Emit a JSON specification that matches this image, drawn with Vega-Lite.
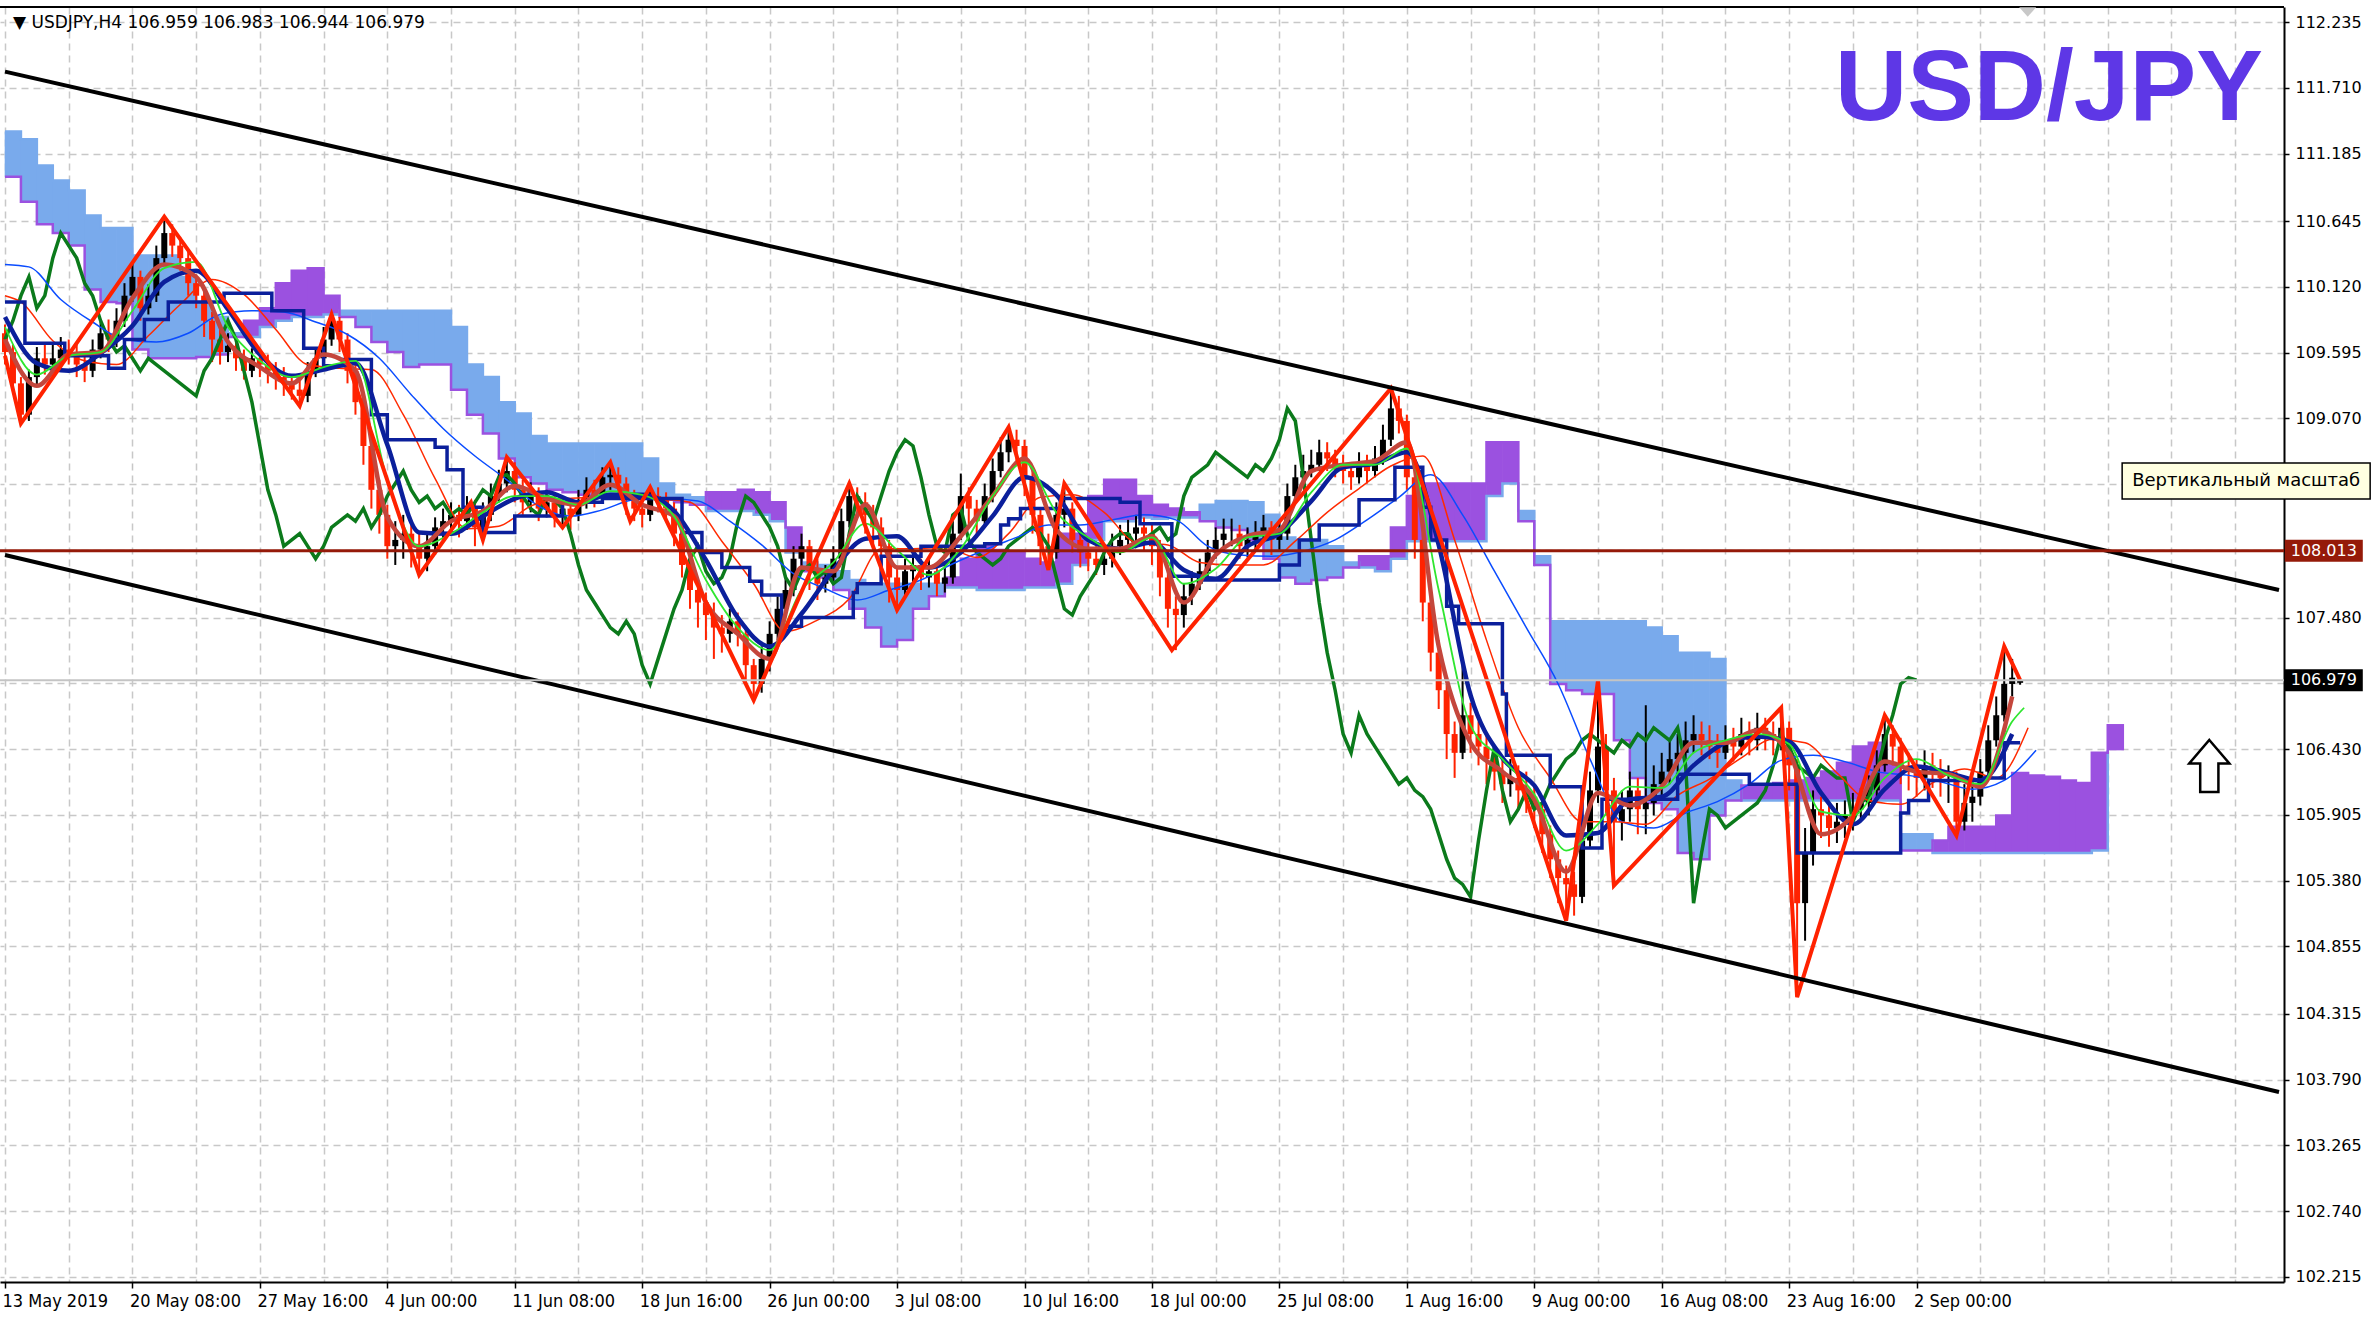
{
  "$schema": "https://vega.github.io/schema/vega-lite/v6.json",
  "width": 2284,
  "height": 1275,
  "autosize": {"type": "none"},
  "padding": {"left": 0, "top": 7, "right": 94, "bottom": 40},
  "background": "#ffffff",
  "config": {"view": {"stroke": null}},
  "datasets": {
    "cloud": [
      {"i":0,"a":111.0,"b":111.36},{"i":4,"a":110.8,"b":111.3},{"i":8,"a":110.62,"b":111.09},{"i":12,"a":110.55,"b":110.97},
      {"i":16,"a":110.45,"b":110.89},{"i":20,"a":110.1,"b":110.69},{"i":24,"a":110.0,"b":110.59},{"i":28,"a":109.99,"b":110.59},
      {"i":32,"a":109.62,"b":110.37},{"i":36,"a":109.55,"b":110.37},{"i":40,"a":109.55,"b":110.37},{"i":44,"a":109.55,"b":110.2},
      {"i":48,"a":109.56,"b":109.99},{"i":52,"a":109.58,"b":109.88},{"i":56,"a":109.72,"b":109.75},{"i":60,"a":109.85,"b":109.72},
      {"i":64,"a":109.95,"b":109.8},{"i":68,"a":110.15,"b":109.85},{"i":72,"a":110.25,"b":109.88},{"i":76,"a":110.27,"b":109.88},
      {"i":80,"a":110.05,"b":109.9},{"i":84,"a":109.88,"b":109.93},{"i":88,"a":109.8,"b":109.93},{"i":92,"a":109.68,"b":109.93},
      {"i":96,"a":109.6,"b":109.93},{"i":100,"a":109.48,"b":109.93},{"i":104,"a":109.5,"b":109.93},{"i":108,"a":109.5,"b":109.93},
      {"i":112,"a":109.3,"b":109.8},{"i":116,"a":109.1,"b":109.5},{"i":120,"a":108.95,"b":109.4},{"i":124,"a":108.75,"b":109.2},
      {"i":128,"a":108.6,"b":109.11},{"i":132,"a":108.55,"b":108.93},{"i":136,"a":108.5,"b":108.87},{"i":140,"a":108.48,"b":108.87},
      {"i":144,"a":108.46,"b":108.87},{"i":148,"a":108.45,"b":108.87},{"i":152,"a":108.44,"b":108.87},{"i":156,"a":108.45,"b":108.87},
      {"i":160,"a":108.45,"b":108.75},{"i":164,"a":108.42,"b":108.55},{"i":168,"a":108.4,"b":108.46},{"i":172,"a":108.38,"b":108.44},
      {"i":176,"a":108.48,"b":108.33},{"i":180,"a":108.48,"b":108.33},{"i":184,"a":108.5,"b":108.33},{"i":188,"a":108.48,"b":108.3},
      {"i":192,"a":108.4,"b":108.25},{"i":196,"a":108.2,"b":108.0},{"i":200,"a":107.85,"b":107.92},{"i":204,"a":107.8,"b":107.9},
      {"i":208,"a":107.7,"b":107.85},{"i":212,"a":107.55,"b":107.78},{"i":216,"a":107.4,"b":107.75},{"i":220,"a":107.25,"b":107.75},
      {"i":224,"a":107.3,"b":107.75},{"i":228,"a":107.55,"b":107.75},{"i":232,"a":107.65,"b":107.75},{"i":236,"a":107.8,"b":107.72},
      {"i":240,"a":107.95,"b":107.72},{"i":244,"a":108.05,"b":107.7},{"i":248,"a":108.02,"b":107.7},{"i":252,"a":108.0,"b":107.7},
      {"i":256,"a":107.95,"b":107.72},{"i":260,"a":107.92,"b":107.72},{"i":264,"a":108.15,"b":107.75},{"i":268,"a":108.15,"b":107.9},
      {"i":272,"a":108.45,"b":108.1},{"i":276,"a":108.58,"b":108.25},{"i":280,"a":108.58,"b":108.25},{"i":284,"a":108.45,"b":108.28},
      {"i":288,"a":108.38,"b":108.27},{"i":292,"a":108.35,"b":108.28},{"i":296,"a":108.32,"b":108.28},{"i":300,"a":108.25,"b":108.38},
      {"i":304,"a":108.2,"b":108.41},{"i":308,"a":108.18,"b":108.41},{"i":312,"a":108.1,"b":108.4},{"i":316,"a":107.95,"b":108.3},
      {"i":320,"a":107.8,"b":108.12},{"i":324,"a":107.75,"b":108.1},{"i":328,"a":107.78,"b":108.1},{"i":332,"a":107.8,"b":108.05},
      {"i":336,"a":107.88,"b":107.92},{"i":340,"a":107.97,"b":107.88},{"i":344,"a":107.97,"b":107.85},{"i":348,"a":108.2,"b":107.95},
      {"i":352,"a":108.45,"b":108.09},{"i":356,"a":108.55,"b":108.09},{"i":360,"a":108.55,"b":108.09},{"i":364,"a":108.55,"b":108.09},
      {"i":368,"a":108.55,"b":108.09},{"i":372,"a":108.88,"b":108.45},{"i":376,"a":108.88,"b":108.55},{"i":380,"a":108.25,"b":108.33},
      {"i":384,"a":107.9,"b":107.97},{"i":388,"a":106.95,"b":107.45},{"i":392,"a":106.9,"b":107.45},{"i":396,"a":106.87,"b":107.45},
      {"i":400,"a":106.87,"b":107.45},{"i":404,"a":106.5,"b":107.45},{"i":408,"a":106.2,"b":107.45},{"i":412,"a":106.0,"b":107.4},
      {"i":416,"a":105.95,"b":107.33},{"i":420,"a":105.6,"b":107.2},{"i":424,"a":105.55,"b":107.2},{"i":428,"a":105.9,"b":107.15},
      {"i":432,"a":106.02,"b":106.18},{"i":436,"a":106.14,"b":106.02},{"i":440,"a":106.14,"b":106.02},{"i":444,"a":106.16,"b":106.02},
      {"i":448,"a":106.18,"b":106.02},{"i":452,"a":106.2,"b":106.02},{"i":456,"a":106.25,"b":106.02},{"i":460,"a":106.32,"b":106.02},
      {"i":464,"a":106.45,"b":106.02},{"i":468,"a":106.48,"b":106.02},{"i":472,"a":106.3,"b":106.02},{"i":476,"a":105.62,"b":105.75},
      {"i":480,"a":105.62,"b":105.75},{"i":484,"a":105.7,"b":105.6},{"i":488,"a":105.81,"b":105.6},{"i":492,"a":105.81,"b":105.6},
      {"i":496,"a":105.81,"b":105.6},{"i":500,"a":105.9,"b":105.6},{"i":504,"a":106.24,"b":105.6},{"i":508,"a":106.22,"b":105.6},
      {"i":512,"a":106.21,"b":105.6},{"i":516,"a":106.18,"b":105.6},{"i":520,"a":106.16,"b":105.6},{"i":524,"a":106.4,"b":105.62},
      {"i":528,"a":106.63,"b":106.42}
    ],
    "candles": [
      {"i":0,"o":109.75,"h":109.82,"l":109.5,"c":109.6},{"i":2,"o":109.6,"h":109.66,"l":109.28,"c":109.35},
      {"i":4,"o":109.35,"h":109.4,"l":109.03,"c":109.1},{"i":6,"o":109.1,"h":109.46,"l":109.05,"c":109.4},
      {"i":8,"o":109.4,"h":109.64,"l":109.34,"c":109.55},{"i":10,"o":109.55,"h":109.66,"l":109.42,"c":109.5},
      {"i":12,"o":109.5,"h":109.68,"l":109.44,"c":109.55},{"i":14,"o":109.55,"h":109.72,"l":109.48,"c":109.62},
      {"i":16,"o":109.62,"h":109.7,"l":109.5,"c":109.6},{"i":18,"o":109.6,"h":109.66,"l":109.4,"c":109.5},
      {"i":20,"o":109.5,"h":109.58,"l":109.36,"c":109.45},{"i":22,"o":109.45,"h":109.7,"l":109.4,"c":109.62},
      {"i":24,"o":109.62,"h":109.84,"l":109.55,"c":109.75},{"i":26,"o":109.75,"h":109.86,"l":109.6,"c":109.7},
      {"i":28,"o":109.7,"h":109.95,"l":109.64,"c":109.85},{"i":30,"o":109.85,"h":110.15,"l":109.8,"c":110.05},
      {"i":32,"o":110.05,"h":110.31,"l":110.0,"c":110.2},{"i":34,"o":110.2,"h":110.25,"l":109.85,"c":109.95},
      {"i":36,"o":109.95,"h":110.14,"l":109.9,"c":110.05},{"i":38,"o":110.05,"h":110.45,"l":110.0,"c":110.35},
      {"i":40,"o":110.35,"h":110.68,"l":110.3,"c":110.55},{"i":42,"o":110.55,"h":110.62,"l":110.36,"c":110.45},
      {"i":44,"o":110.45,"h":110.52,"l":110.25,"c":110.35},{"i":46,"o":110.35,"h":110.4,"l":110.05,"c":110.15},
      {"i":48,"o":110.15,"h":110.22,"l":109.95,"c":110.05},{"i":50,"o":110.05,"h":110.1,"l":109.72,"c":109.85},
      {"i":52,"o":109.85,"h":109.92,"l":109.52,"c":109.7},{"i":54,"o":109.7,"h":109.8,"l":109.5,"c":109.6},
      {"i":56,"o":109.6,"h":109.75,"l":109.52,"c":109.65},{"i":58,"o":109.65,"h":109.7,"l":109.45,"c":109.55},
      {"i":60,"o":109.55,"h":109.62,"l":109.38,"c":109.45},{"i":62,"o":109.45,"h":109.63,"l":109.4,"c":109.55},
      {"i":64,"o":109.55,"h":109.62,"l":109.4,"c":109.5},{"i":66,"o":109.5,"h":109.58,"l":109.35,"c":109.45},
      {"i":68,"o":109.45,"h":109.52,"l":109.3,"c":109.4},{"i":70,"o":109.4,"h":109.48,"l":109.25,"c":109.35},
      {"i":72,"o":109.35,"h":109.42,"l":109.22,"c":109.3},{"i":74,"o":109.3,"h":109.38,"l":109.17,"c":109.25},
      {"i":76,"o":109.25,"h":109.52,"l":109.2,"c":109.45},{"i":78,"o":109.45,"h":109.64,"l":109.4,"c":109.55},
      {"i":80,"o":109.55,"h":109.8,"l":109.5,"c":109.7},{"i":82,"o":109.7,"h":109.9,"l":109.65,"c":109.85},
      {"i":84,"o":109.85,"h":109.88,"l":109.6,"c":109.7},{"i":86,"o":109.7,"h":109.75,"l":109.35,"c":109.45},
      {"i":88,"o":109.45,"h":109.5,"l":109.1,"c":109.2},{"i":90,"o":109.2,"h":109.25,"l":108.7,"c":108.85},
      {"i":92,"o":108.85,"h":108.9,"l":108.35,"c":108.5},{"i":94,"o":108.5,"h":108.58,"l":108.15,"c":108.3},
      {"i":96,"o":108.3,"h":108.38,"l":107.95,"c":108.05},{"i":98,"o":108.05,"h":108.25,"l":107.9,"c":108.1},
      {"i":100,"o":108.1,"h":108.3,"l":107.95,"c":108.15},{"i":102,"o":108.15,"h":108.25,"l":107.88,"c":108.05},
      {"i":104,"o":108.05,"h":108.15,"l":107.82,"c":107.95},{"i":106,"o":107.95,"h":108.15,"l":107.85,"c":108.05},
      {"i":108,"o":108.05,"h":108.28,"l":107.98,"c":108.2},{"i":110,"o":108.2,"h":108.35,"l":108.1,"c":108.25},
      {"i":112,"o":108.25,"h":108.4,"l":108.15,"c":108.3},{"i":114,"o":108.3,"h":108.38,"l":108.12,"c":108.25},
      {"i":116,"o":108.25,"h":108.45,"l":108.18,"c":108.35},{"i":118,"o":108.35,"h":108.42,"l":108.05,"c":108.2},
      {"i":120,"o":108.2,"h":108.4,"l":108.12,"c":108.3},{"i":122,"o":108.3,"h":108.55,"l":108.25,"c":108.45},
      {"i":124,"o":108.45,"h":108.66,"l":108.4,"c":108.55},{"i":126,"o":108.55,"h":108.76,"l":108.48,"c":108.65},
      {"i":128,"o":108.65,"h":108.72,"l":108.4,"c":108.5},{"i":130,"o":108.5,"h":108.58,"l":108.3,"c":108.4},
      {"i":132,"o":108.4,"h":108.56,"l":108.32,"c":108.45},{"i":134,"o":108.45,"h":108.52,"l":108.25,"c":108.35},
      {"i":136,"o":108.35,"h":108.5,"l":108.28,"c":108.4},{"i":138,"o":108.4,"h":108.46,"l":108.2,"c":108.3},
      {"i":140,"o":108.3,"h":108.45,"l":108.22,"c":108.35},{"i":142,"o":108.35,"h":108.42,"l":108.18,"c":108.3},
      {"i":144,"o":108.3,"h":108.5,"l":108.25,"c":108.4},{"i":146,"o":108.4,"h":108.6,"l":108.35,"c":108.5},
      {"i":148,"o":108.5,"h":108.58,"l":108.36,"c":108.45},{"i":150,"o":108.45,"h":108.68,"l":108.4,"c":108.6},
      {"i":152,"o":108.6,"h":108.72,"l":108.5,"c":108.62},{"i":154,"o":108.62,"h":108.68,"l":108.45,"c":108.55},
      {"i":156,"o":108.55,"h":108.6,"l":108.3,"c":108.45},{"i":158,"o":108.45,"h":108.5,"l":108.25,"c":108.35},
      {"i":160,"o":108.35,"h":108.45,"l":108.2,"c":108.3},{"i":162,"o":108.3,"h":108.52,"l":108.25,"c":108.45},
      {"i":164,"o":108.45,"h":108.52,"l":108.32,"c":108.42},{"i":166,"o":108.42,"h":108.48,"l":108.25,"c":108.35},
      {"i":168,"o":108.35,"h":108.4,"l":108.05,"c":108.15},{"i":170,"o":108.15,"h":108.2,"l":107.8,"c":107.9},
      {"i":172,"o":107.9,"h":107.95,"l":107.55,"c":107.7},{"i":174,"o":107.7,"h":107.78,"l":107.4,"c":107.6},
      {"i":176,"o":107.6,"h":107.68,"l":107.3,"c":107.5},{"i":178,"o":107.5,"h":107.6,"l":107.15,"c":107.4},
      {"i":180,"o":107.4,"h":107.5,"l":107.2,"c":107.35},{"i":182,"o":107.35,"h":107.55,"l":107.28,"c":107.45},
      {"i":184,"o":107.45,"h":107.52,"l":107.25,"c":107.35},{"i":186,"o":107.35,"h":107.4,"l":106.95,"c":107.1},
      {"i":188,"o":107.1,"h":107.15,"l":106.82,"c":106.95},{"i":190,"o":106.95,"h":107.25,"l":106.88,"c":107.15},
      {"i":192,"o":107.15,"h":107.45,"l":107.05,"c":107.35},{"i":194,"o":107.35,"h":107.65,"l":107.3,"c":107.55},
      {"i":196,"o":107.55,"h":107.8,"l":107.5,"c":107.7},{"i":198,"o":107.7,"h":108.05,"l":107.65,"c":107.95},
      {"i":200,"o":107.95,"h":108.15,"l":107.85,"c":108.05},{"i":202,"o":108.05,"h":108.1,"l":107.7,"c":107.85},
      {"i":204,"o":107.85,"h":107.95,"l":107.62,"c":107.75},{"i":206,"o":107.75,"h":107.9,"l":107.68,"c":107.8},
      {"i":208,"o":107.8,"h":108.05,"l":107.75,"c":107.95},{"i":210,"o":107.95,"h":108.35,"l":107.9,"c":108.25},
      {"i":212,"o":108.25,"h":108.55,"l":108.2,"c":108.45},{"i":214,"o":108.45,"h":108.52,"l":108.28,"c":108.4},
      {"i":216,"o":108.4,"h":108.48,"l":108.15,"c":108.3},{"i":218,"o":108.3,"h":108.38,"l":108.05,"c":108.2},
      {"i":220,"o":108.2,"h":108.28,"l":107.9,"c":108.05},{"i":222,"o":108.05,"h":108.1,"l":107.6,"c":107.8},
      {"i":224,"o":107.8,"h":107.88,"l":107.54,"c":107.7},{"i":226,"o":107.7,"h":107.95,"l":107.65,"c":107.85},
      {"i":228,"o":107.85,"h":108.0,"l":107.75,"c":107.9},{"i":230,"o":107.9,"h":107.95,"l":107.7,"c":107.8},
      {"i":232,"o":107.8,"h":107.95,"l":107.72,"c":107.85},{"i":234,"o":107.85,"h":107.9,"l":107.65,"c":107.75},
      {"i":236,"o":107.75,"h":107.92,"l":107.68,"c":107.8},{"i":238,"o":107.8,"h":108.25,"l":107.75,"c":108.15},
      {"i":240,"o":108.15,"h":108.63,"l":108.1,"c":108.45},{"i":242,"o":108.45,"h":108.52,"l":108.22,"c":108.35},
      {"i":244,"o":108.35,"h":108.42,"l":108.12,"c":108.25},{"i":246,"o":108.25,"h":108.55,"l":108.2,"c":108.45},
      {"i":248,"o":108.45,"h":108.75,"l":108.4,"c":108.65},{"i":250,"o":108.65,"h":108.92,"l":108.6,"c":108.8},
      {"i":252,"o":108.8,"h":109.0,"l":108.72,"c":108.9},{"i":254,"o":108.9,"h":108.98,"l":108.7,"c":108.85},
      {"i":256,"o":108.85,"h":108.9,"l":108.45,"c":108.6},{"i":258,"o":108.6,"h":108.65,"l":108.15,"c":108.3},
      {"i":260,"o":108.3,"h":108.35,"l":107.9,"c":108.05},{"i":262,"o":108.05,"h":108.15,"l":107.86,"c":108.0},
      {"i":264,"o":108.0,"h":108.4,"l":107.95,"c":108.3},{"i":266,"o":108.3,"h":108.55,"l":108.2,"c":108.35},
      {"i":268,"o":108.35,"h":108.4,"l":108.0,"c":108.1},{"i":270,"o":108.1,"h":108.18,"l":107.88,"c":108.0},
      {"i":272,"o":108.0,"h":108.08,"l":107.85,"c":107.95},{"i":274,"o":107.95,"h":108.05,"l":107.82,"c":107.9},
      {"i":276,"o":107.9,"h":108.05,"l":107.82,"c":107.95},{"i":278,"o":107.95,"h":108.15,"l":107.88,"c":108.05},
      {"i":280,"o":108.05,"h":108.22,"l":107.98,"c":108.1},{"i":282,"o":108.1,"h":108.26,"l":108.02,"c":108.15},
      {"i":284,"o":108.15,"h":108.3,"l":108.08,"c":108.2},{"i":286,"o":108.2,"h":108.28,"l":108.02,"c":108.15},
      {"i":288,"o":108.15,"h":108.22,"l":107.9,"c":108.05},{"i":290,"o":108.05,"h":108.1,"l":107.65,"c":107.8},
      {"i":292,"o":107.8,"h":107.85,"l":107.4,"c":107.55},{"i":294,"o":107.55,"h":107.65,"l":107.22,"c":107.5},
      {"i":296,"o":107.5,"h":107.75,"l":107.4,"c":107.65},{"i":298,"o":107.65,"h":107.85,"l":107.58,"c":107.75},
      {"i":300,"o":107.75,"h":107.95,"l":107.7,"c":107.85},{"i":302,"o":107.85,"h":108.1,"l":107.8,"c":108.0},
      {"i":304,"o":108.0,"h":108.2,"l":107.95,"c":108.1},{"i":306,"o":108.1,"h":108.27,"l":108.02,"c":108.15},
      {"i":308,"o":108.15,"h":108.27,"l":108.05,"c":108.15},{"i":310,"o":108.15,"h":108.22,"l":107.95,"c":108.05},
      {"i":312,"o":108.05,"h":108.2,"l":107.96,"c":108.1},{"i":314,"o":108.1,"h":108.25,"l":108.02,"c":108.15},
      {"i":316,"o":108.15,"h":108.3,"l":108.08,"c":108.2},{"i":318,"o":108.2,"h":108.25,"l":107.98,"c":108.1},
      {"i":320,"o":108.1,"h":108.26,"l":108.02,"c":108.15},{"i":322,"o":108.15,"h":108.55,"l":108.1,"c":108.45},
      {"i":324,"o":108.45,"h":108.7,"l":108.4,"c":108.6},{"i":326,"o":108.6,"h":108.78,"l":108.55,"c":108.65},
      {"i":328,"o":108.65,"h":108.82,"l":108.6,"c":108.7},{"i":330,"o":108.7,"h":108.9,"l":108.65,"c":108.8},
      {"i":332,"o":108.8,"h":108.88,"l":108.65,"c":108.75},{"i":334,"o":108.75,"h":108.82,"l":108.6,"c":108.7},
      {"i":336,"o":108.7,"h":108.78,"l":108.55,"c":108.65},{"i":338,"o":108.65,"h":108.72,"l":108.5,"c":108.6},
      {"i":340,"o":108.6,"h":108.8,"l":108.55,"c":108.7},{"i":342,"o":108.7,"h":108.78,"l":108.55,"c":108.65},
      {"i":344,"o":108.65,"h":108.85,"l":108.6,"c":108.75},{"i":346,"o":108.75,"h":109.02,"l":108.7,"c":108.9},
      {"i":348,"o":108.9,"h":109.31,"l":108.85,"c":109.15},{"i":350,"o":109.15,"h":109.25,"l":108.95,"c":109.05},
      {"i":352,"o":109.05,"h":109.1,"l":108.5,"c":108.6},{"i":354,"o":108.6,"h":108.65,"l":107.95,"c":108.1},
      {"i":356,"o":108.1,"h":108.15,"l":107.45,"c":107.6},{"i":358,"o":107.6,"h":107.7,"l":107.05,"c":107.2},
      {"i":360,"o":107.2,"h":107.3,"l":106.75,"c":106.9},{"i":362,"o":106.9,"h":106.95,"l":106.35,"c":106.55},
      {"i":364,"o":106.55,"h":106.65,"l":106.2,"c":106.4},{"i":366,"o":106.4,"h":107.1,"l":106.35,"c":106.7},
      {"i":368,"o":106.7,"h":106.8,"l":106.4,"c":106.55},{"i":370,"o":106.55,"h":106.65,"l":106.3,"c":106.45},
      {"i":372,"o":106.45,"h":106.55,"l":106.15,"c":106.35},{"i":374,"o":106.35,"h":106.42,"l":106.1,"c":106.25},
      {"i":376,"o":106.25,"h":106.35,"l":106.0,"c":106.15},{"i":378,"o":106.15,"h":106.35,"l":106.05,"c":106.2},
      {"i":380,"o":106.2,"h":106.3,"l":105.95,"c":106.1},{"i":382,"o":106.1,"h":106.25,"l":105.92,"c":106.05},
      {"i":384,"o":106.05,"h":106.15,"l":105.8,"c":105.95},{"i":386,"o":105.95,"h":106.0,"l":105.6,"c":105.75},
      {"i":388,"o":105.75,"h":105.82,"l":105.4,"c":105.55},{"i":390,"o":105.55,"h":105.62,"l":105.2,"c":105.4},
      {"i":392,"o":105.4,"h":105.5,"l":105.06,"c":105.35},{"i":394,"o":105.35,"h":105.45,"l":105.1,"c":105.25},
      {"i":396,"o":105.25,"h":105.8,"l":105.2,"c":105.7},{"i":398,"o":105.7,"h":106.25,"l":105.65,"c":106.1},
      {"i":400,"o":106.1,"h":106.98,"l":106.0,"c":106.45},{"i":402,"o":106.45,"h":106.55,"l":105.9,"c":106.1},
      {"i":404,"o":106.1,"h":106.2,"l":105.34,"c":105.85},{"i":406,"o":105.85,"h":106.1,"l":105.7,"c":105.95},
      {"i":408,"o":105.95,"h":106.25,"l":105.85,"c":106.1},{"i":410,"o":106.1,"h":106.2,"l":105.75,"c":105.95},
      {"i":412,"o":105.95,"h":106.78,"l":105.75,"c":106.0},{"i":414,"o":106.0,"h":106.3,"l":105.9,"c":106.15},
      {"i":416,"o":106.15,"h":106.4,"l":106.05,"c":106.25},{"i":418,"o":106.25,"h":106.5,"l":106.15,"c":106.35},
      {"i":420,"o":106.35,"h":106.55,"l":106.25,"c":106.4},{"i":422,"o":106.4,"h":106.65,"l":106.3,"c":106.5},
      {"i":424,"o":106.5,"h":106.7,"l":106.4,"c":106.55},{"i":426,"o":106.55,"h":106.65,"l":106.38,"c":106.5},
      {"i":428,"o":106.5,"h":106.62,"l":106.35,"c":106.45},{"i":430,"o":106.45,"h":106.55,"l":106.28,"c":106.4},
      {"i":432,"o":106.4,"h":106.62,"l":106.35,"c":106.5},{"i":434,"o":106.5,"h":106.6,"l":106.33,"c":106.45},
      {"i":436,"o":106.45,"h":106.68,"l":106.38,"c":106.55},{"i":438,"o":106.55,"h":106.65,"l":106.38,"c":106.5},
      {"i":440,"o":106.5,"h":106.72,"l":106.42,"c":106.6},{"i":442,"o":106.6,"h":106.68,"l":106.42,"c":106.55},
      {"i":444,"o":106.55,"h":106.65,"l":106.38,"c":106.5},{"i":446,"o":106.5,"h":106.76,"l":106.42,"c":106.6},
      {"i":448,"o":106.6,"h":106.65,"l":106.1,"c":106.3},{"i":450,"o":106.3,"h":106.35,"l":104.45,"c":105.2},
      {"i":452,"o":105.2,"h":105.8,"l":104.9,"c":105.6},{"i":454,"o":105.6,"h":106.1,"l":105.5,"c":105.95},
      {"i":456,"o":105.95,"h":106.05,"l":105.72,"c":105.9},{"i":458,"o":105.9,"h":105.98,"l":105.65,"c":105.8},
      {"i":460,"o":105.8,"h":106.0,"l":105.68,"c":105.85},{"i":462,"o":105.85,"h":106.02,"l":105.72,"c":105.9},
      {"i":464,"o":105.9,"h":106.08,"l":105.78,"c":105.95},{"i":466,"o":105.95,"h":106.12,"l":105.85,"c":106.0},
      {"i":468,"o":106.0,"h":106.22,"l":105.9,"c":106.1},{"i":470,"o":106.1,"h":106.42,"l":106.05,"c":106.3},
      {"i":472,"o":106.3,"h":106.7,"l":106.25,"c":106.55},{"i":474,"o":106.55,"h":106.62,"l":106.3,"c":106.45},
      {"i":476,"o":106.45,"h":106.52,"l":106.15,"c":106.3},{"i":478,"o":106.3,"h":106.4,"l":106.1,"c":106.25},
      {"i":480,"o":106.25,"h":106.35,"l":106.05,"c":106.2},{"i":482,"o":106.2,"h":106.42,"l":106.1,"c":106.3},
      {"i":484,"o":106.3,"h":106.4,"l":106.12,"c":106.25},{"i":486,"o":106.25,"h":106.35,"l":106.05,"c":106.2},
      {"i":488,"o":106.2,"h":106.3,"l":106.0,"c":106.2},{"i":490,"o":106.2,"h":106.25,"l":105.74,"c":105.85},
      {"i":492,"o":105.85,"h":106.15,"l":105.78,"c":106.0},{"i":494,"o":106.0,"h":106.2,"l":105.85,"c":106.05},
      {"i":496,"o":106.05,"h":106.35,"l":105.98,"c":106.25},{"i":498,"o":106.25,"h":106.62,"l":106.2,"c":106.5},
      {"i":500,"o":106.5,"h":106.85,"l":106.45,"c":106.7},{"i":502,"o":106.7,"h":107.25,"l":106.65,"c":106.95},
      {"i":504,"o":106.95,"h":107.15,"l":106.85,"c":107.0},{"i":506,"o":106.959,"h":106.983,"l":106.944,"c":106.979}
    ],
    "chikou": [
      {"i":0,"p":109.7},{"i":2,"p":109.85},{"i":4,"p":110.05},{"i":6,"p":110.2},{"i":8,"p":109.95},{"i":10,"p":110.05},
      {"i":12,"p":110.35},{"i":14,"p":110.55},{"i":16,"p":110.45},{"i":18,"p":110.35},{"i":20,"p":110.15},{"i":22,"p":110.05},
      {"i":24,"p":109.85},{"i":26,"p":109.7},{"i":28,"p":109.6},{"i":30,"p":109.65},{"i":32,"p":109.55},{"i":34,"p":109.45},
      {"i":36,"p":109.55},{"i":38,"p":109.5},{"i":40,"p":109.45},{"i":42,"p":109.4},{"i":44,"p":109.35},{"i":46,"p":109.3},
      {"i":48,"p":109.25},{"i":50,"p":109.45},{"i":52,"p":109.55},{"i":54,"p":109.7},{"i":56,"p":109.85},{"i":58,"p":109.7},
      {"i":60,"p":109.45},{"i":62,"p":109.2},{"i":64,"p":108.85},{"i":66,"p":108.5},{"i":68,"p":108.3},{"i":70,"p":108.05},
      {"i":72,"p":108.1},{"i":74,"p":108.15},{"i":76,"p":108.05},{"i":78,"p":107.95},{"i":80,"p":108.05},{"i":82,"p":108.2},
      {"i":84,"p":108.25},{"i":86,"p":108.3},{"i":88,"p":108.25},{"i":90,"p":108.35},{"i":92,"p":108.2},{"i":94,"p":108.3},
      {"i":96,"p":108.45},{"i":98,"p":108.55},{"i":100,"p":108.65},{"i":102,"p":108.5},{"i":104,"p":108.4},{"i":106,"p":108.45},
      {"i":108,"p":108.35},{"i":110,"p":108.4},{"i":112,"p":108.3},{"i":114,"p":108.35},{"i":116,"p":108.3},{"i":118,"p":108.4},
      {"i":120,"p":108.5},{"i":122,"p":108.45},{"i":124,"p":108.6},{"i":126,"p":108.62},{"i":128,"p":108.55},{"i":130,"p":108.45},
      {"i":132,"p":108.35},{"i":134,"p":108.3},{"i":136,"p":108.45},{"i":138,"p":108.42},{"i":140,"p":108.35},{"i":142,"p":108.15},
      {"i":144,"p":107.9},{"i":146,"p":107.7},{"i":148,"p":107.6},{"i":150,"p":107.5},{"i":152,"p":107.4},{"i":154,"p":107.35},
      {"i":156,"p":107.45},{"i":158,"p":107.35},{"i":160,"p":107.1},{"i":162,"p":106.95},{"i":164,"p":107.15},{"i":166,"p":107.35},
      {"i":168,"p":107.55},{"i":170,"p":107.7},{"i":172,"p":107.95},{"i":174,"p":108.05},{"i":176,"p":107.85},{"i":178,"p":107.75},
      {"i":180,"p":107.8},{"i":182,"p":107.95},{"i":184,"p":108.25},{"i":186,"p":108.45},{"i":188,"p":108.4},{"i":190,"p":108.3},
      {"i":192,"p":108.2},{"i":194,"p":108.05},{"i":196,"p":107.8},{"i":198,"p":107.7},{"i":200,"p":107.85},{"i":202,"p":107.9},
      {"i":204,"p":107.8},{"i":206,"p":107.85},{"i":208,"p":107.75},{"i":210,"p":107.8},{"i":212,"p":108.15},{"i":214,"p":108.45},
      {"i":216,"p":108.35},{"i":218,"p":108.25},{"i":220,"p":108.45},{"i":222,"p":108.65},{"i":224,"p":108.8},{"i":226,"p":108.9},
      {"i":228,"p":108.85},{"i":230,"p":108.6},{"i":232,"p":108.3},{"i":234,"p":108.05},{"i":236,"p":108.0},{"i":238,"p":108.3},
      {"i":240,"p":108.35},{"i":242,"p":108.1},{"i":244,"p":108.0},{"i":246,"p":107.95},{"i":248,"p":107.9},{"i":250,"p":107.95},
      {"i":252,"p":108.05},{"i":254,"p":108.1},{"i":256,"p":108.15},{"i":258,"p":108.2},{"i":260,"p":108.15},{"i":262,"p":108.05},
      {"i":264,"p":107.8},{"i":266,"p":107.55},{"i":268,"p":107.5},{"i":270,"p":107.65},{"i":272,"p":107.75},{"i":274,"p":107.85},
      {"i":276,"p":108.0},{"i":278,"p":108.1},{"i":280,"p":108.15},{"i":282,"p":108.15},{"i":284,"p":108.05},{"i":286,"p":108.1},
      {"i":288,"p":108.15},{"i":290,"p":108.2},{"i":292,"p":108.1},{"i":294,"p":108.15},{"i":296,"p":108.45},{"i":298,"p":108.6},
      {"i":300,"p":108.65},{"i":302,"p":108.7},{"i":304,"p":108.8},{"i":306,"p":108.75},{"i":308,"p":108.7},{"i":310,"p":108.65},
      {"i":312,"p":108.6},{"i":314,"p":108.7},{"i":316,"p":108.65},{"i":318,"p":108.75},{"i":320,"p":108.9},{"i":322,"p":109.15},
      {"i":324,"p":109.05},{"i":326,"p":108.6},{"i":328,"p":108.1},{"i":330,"p":107.6},{"i":332,"p":107.2},{"i":334,"p":106.9},
      {"i":336,"p":106.55},{"i":338,"p":106.4},{"i":340,"p":106.7},{"i":342,"p":106.55},{"i":344,"p":106.45},{"i":346,"p":106.35},
      {"i":348,"p":106.25},{"i":350,"p":106.15},{"i":352,"p":106.2},{"i":354,"p":106.1},{"i":356,"p":106.05},{"i":358,"p":105.95},
      {"i":360,"p":105.75},{"i":362,"p":105.55},{"i":364,"p":105.4},{"i":366,"p":105.35},{"i":368,"p":105.25},{"i":370,"p":105.7},
      {"i":372,"p":106.1},{"i":374,"p":106.45},{"i":376,"p":106.1},{"i":378,"p":105.85},{"i":380,"p":105.95},{"i":382,"p":106.1},
      {"i":384,"p":105.95},{"i":386,"p":106.0},{"i":388,"p":106.15},{"i":390,"p":106.25},{"i":392,"p":106.35},{"i":394,"p":106.4},
      {"i":396,"p":106.5},{"i":398,"p":106.55},{"i":400,"p":106.5},{"i":402,"p":106.45},{"i":404,"p":106.4},{"i":406,"p":106.5},
      {"i":408,"p":106.45},{"i":410,"p":106.55},{"i":412,"p":106.5},{"i":414,"p":106.6},{"i":416,"p":106.55},{"i":418,"p":106.5},
      {"i":420,"p":106.6},{"i":422,"p":106.3},{"i":424,"p":105.2},{"i":426,"p":105.6},{"i":428,"p":105.95},{"i":430,"p":105.9},
      {"i":432,"p":105.8},{"i":434,"p":105.85},{"i":436,"p":105.9},{"i":438,"p":105.95},{"i":440,"p":106.0},{"i":442,"p":106.1},
      {"i":444,"p":106.3},{"i":446,"p":106.55},{"i":448,"p":106.45},{"i":450,"p":106.3},{"i":452,"p":106.25},{"i":454,"p":106.2},
      {"i":456,"p":106.3},{"i":458,"p":106.25},{"i":460,"p":106.2},{"i":462,"p":106.2},{"i":464,"p":105.85},{"i":466,"p":106.0},
      {"i":468,"p":106.05},{"i":470,"p":106.25},{"i":472,"p":106.5},{"i":474,"p":106.7},{"i":476,"p":106.95},{"i":478,"p":107.0},
      {"i":480,"p":106.98}
    ],
    "ma_blue": [
      {"i":0,"p":110.3},{"i":6,"p":110.28},{"i":14,"p":110.02},{"i":22,"p":109.84},{"i":30,"p":109.7},{"i":38,"p":109.68},
      {"i":46,"p":109.75},{"i":54,"p":109.9},{"i":62,"p":109.93},{"i":70,"p":109.92},{"i":78,"p":109.84},{"i":86,"p":109.74},
      {"i":94,"p":109.55},{"i":102,"p":109.26},{"i":110,"p":108.99},{"i":118,"p":108.77},{"i":126,"p":108.58},{"i":134,"p":108.37},
      {"i":142,"p":108.29},{"i":150,"p":108.34},{"i":158,"p":108.42},{"i":166,"p":108.43},{"i":174,"p":108.41},{"i":182,"p":108.25},
      {"i":190,"p":108.06},{"i":198,"p":107.83},{"i":206,"p":107.71},{"i":214,"p":107.62},{"i":222,"p":107.7},{"i":230,"p":107.78},
      {"i":238,"p":107.91},{"i":246,"p":108.02},{"i":254,"p":108.12},{"i":262,"p":108.22},{"i":270,"p":108.22},{"i":278,"p":108.26},
      {"i":286,"p":108.3},{"i":294,"p":108.26},{"i":302,"p":108.05},{"i":310,"p":107.98},{"i":318,"p":107.97},{"i":326,"p":108.01},
      {"i":334,"p":108.1},{"i":342,"p":108.26},{"i":350,"p":108.44},{"i":358,"p":108.62},{"i":366,"p":108.3},{"i":374,"p":107.85},
      {"i":382,"p":107.4},{"i":390,"p":106.95},{"i":398,"p":106.35},{"i":406,"p":105.85},{"i":414,"p":105.8},{"i":422,"p":105.92},
      {"i":430,"p":106.01},{"i":438,"p":106.15},{"i":446,"p":106.34},{"i":454,"p":106.38},{"i":462,"p":106.33},{"i":470,"p":106.25},
      {"i":478,"p":106.22},{"i":486,"p":106.17},{"i":494,"p":106.11},{"i":502,"p":106.18},{"i":510,"p":106.42}
    ],
    "ma_red": [
      {"i":0,"p":110.05},{"i":4,"p":110.0},{"i":12,"p":109.69},{"i":20,"p":109.53},{"i":28,"p":109.5},{"i":36,"p":109.73},
      {"i":44,"p":109.98},{"i":52,"p":110.18},{"i":60,"p":110.06},{"i":68,"p":109.78},{"i":76,"p":109.5},{"i":84,"p":109.47},
      {"i":92,"p":109.46},{"i":100,"p":109.1},{"i":108,"p":108.59},{"i":116,"p":108.19},{"i":124,"p":108.21},{"i":132,"p":108.37},
      {"i":140,"p":108.43},{"i":148,"p":108.44},{"i":156,"p":108.45},{"i":164,"p":108.43},{"i":172,"p":108.4},{"i":180,"p":108.09},
      {"i":188,"p":107.75},{"i":196,"p":107.37},{"i":204,"p":107.46},{"i":212,"p":107.63},{"i":220,"p":108.03},{"i":228,"p":108.03},
      {"i":236,"p":108.04},{"i":244,"p":107.96},{"i":252,"p":108.15},{"i":260,"p":108.44},{"i":268,"p":108.46},{"i":276,"p":108.32},
      {"i":284,"p":108.08},{"i":292,"p":108.06},{"i":300,"p":107.92},{"i":308,"p":107.9},{"i":316,"p":107.9},{"i":324,"p":108.09},
      {"i":332,"p":108.32},{"i":340,"p":108.51},{"i":348,"p":108.69},{"i":356,"p":108.77},{"i":364,"p":108.1},{"i":372,"p":107.3},
      {"i":380,"p":106.6},{"i":388,"p":106.2},{"i":396,"p":105.85},{"i":404,"p":105.85},{"i":412,"p":105.83},{"i":420,"p":106.06},
      {"i":428,"p":106.19},{"i":436,"p":106.36},{"i":444,"p":106.51},{"i":452,"p":106.48},{"i":460,"p":106.24},{"i":468,"p":106.02},
      {"i":476,"p":105.99},{"i":484,"p":106.16},{"i":492,"p":106.27},{"i":500,"p":106.2},{"i":508,"p":106.6}
    ],
    "kijun": [
      {"i":0,"p":110.0},{"i":5,"p":109.67},{"i":15,"p":109.57},{"i":26,"p":109.47},{"i":30,"p":109.7},{"i":35,"p":109.86},
      {"i":41,"p":110.0},{"i":55,"p":110.07},{"i":67,"p":109.93},{"i":75,"p":109.63},{"i":80,"p":109.49},{"i":85,"p":109.54},
      {"i":92,"p":109.1},{"i":96,"p":108.9},{"i":108,"p":108.84},{"i":111,"p":108.66},{"i":115,"p":108.36},{"i":120,"p":108.16},
      {"i":128,"p":108.29},{"i":140,"p":108.4},{"i":150,"p":108.43},{"i":170,"p":108.16},{"i":175,"p":108.0},{"i":180,"p":107.88},
      {"i":187,"p":107.77},{"i":190,"p":107.66},{"i":195,"p":107.41},{"i":200,"p":107.48},{"i":213,"p":107.68},{"i":214,"p":107.75},
      {"i":220,"p":107.97},{"i":230,"p":108.05},{"i":246,"p":108.07},{"i":250,"p":108.22},{"i":252,"p":108.27},{"i":255,"p":108.35},
      {"i":265,"p":108.43},{"i":280,"p":108.4},{"i":285,"p":108.23},{"i":293,"p":107.81},{"i":300,"p":107.78},{"i":320,"p":107.9},
      {"i":325,"p":108.1},{"i":330,"p":108.22},{"i":340,"p":108.42},{"i":349,"p":108.68},{"i":356,"p":108.36},{"i":358,"p":108.1},
      {"i":362,"p":107.57},{"i":365,"p":107.43},{"i":376,"p":106.87},{"i":377,"p":106.38},{"i":388,"p":106.13},{"i":396,"p":105.64},
      {"i":401,"p":106.03},{"i":420,"p":106.23},{"i":438,"p":106.15},{"i":450,"p":105.6},{"i":476,"p":105.92},{"i":478,"p":106.02},
      {"i":483,"p":106.18},{"i":497,"p":106.2},{"i":502,"p":106.48},{"i":506,"p":106.48}
    ],
    "ma_navy": [
      {"i":0,"p":109.88},{"i":8,"p":109.51},{"i":16,"p":109.45},{"i":24,"p":109.59},{"i":32,"p":109.81},{"i":40,"p":110.16},
      {"i":48,"p":110.25},{"i":56,"p":109.94},{"i":64,"p":109.58},{"i":72,"p":109.41},{"i":80,"p":109.46},{"i":88,"p":109.51},
      {"i":96,"p":108.86},{"i":104,"p":108.16},{"i":112,"p":108.15},{"i":120,"p":108.29},{"i":128,"p":108.43},{"i":136,"p":108.48},
      {"i":144,"p":108.4},{"i":152,"p":108.46},{"i":160,"p":108.46},{"i":168,"p":108.33},{"i":176,"p":107.94},{"i":184,"p":107.48},
      {"i":192,"p":107.25},{"i":200,"p":107.51},{"i":208,"p":107.86},{"i":216,"p":108.11},{"i":224,"p":108.13},{"i":232,"p":107.88},
      {"i":240,"p":108.0},{"i":248,"p":108.29},{"i":256,"p":108.6},{"i":264,"p":108.46},{"i":272,"p":108.1},{"i":280,"p":108.03},
      {"i":288,"p":108.08},{"i":296,"p":107.86},{"i":304,"p":107.79},{"i":312,"p":108.05},{"i":320,"p":108.15},{"i":328,"p":108.41},
      {"i":336,"p":108.68},{"i":344,"p":108.71},{"i":352,"p":108.8},{"i":360,"p":108.06},{"i":368,"p":106.86},{"i":376,"p":106.36},
      {"i":384,"p":106.14},{"i":392,"p":105.74},{"i":400,"p":105.76},{"i":408,"p":106.03},{"i":416,"p":106.05},{"i":424,"p":106.3},
      {"i":432,"p":106.48},{"i":440,"p":106.53},{"i":448,"p":106.49},{"i":456,"p":106.08},{"i":464,"p":105.83},{"i":472,"p":106.11},
      {"i":480,"p":106.29},{"i":488,"p":106.24},{"i":496,"p":106.18},{"i":504,"p":106.55}
    ],
    "ma_brown": [
      {"i":0,"p":109.7},{"i":8,"p":109.33},{"i":16,"p":109.58},{"i":24,"p":109.6},{"i":32,"p":110.03},{"i":40,"p":110.3},
      {"i":48,"p":110.2},{"i":56,"p":109.68},{"i":64,"p":109.48},{"i":72,"p":109.35},{"i":80,"p":109.58},{"i":88,"p":109.45},
      {"i":96,"p":108.28},{"i":104,"p":108.05},{"i":112,"p":108.25},{"i":120,"p":108.33},{"i":128,"p":108.53},{"i":136,"p":108.43},
      {"i":144,"p":108.38},{"i":152,"p":108.54},{"i":160,"p":108.38},{"i":168,"p":108.29},{"i":176,"p":107.6},{"i":184,"p":107.35},
      {"i":192,"p":107.15},{"i":200,"p":107.88},{"i":208,"p":107.85},{"i":216,"p":108.38},{"i":224,"p":107.88},{"i":232,"p":107.88},
      {"i":240,"p":108.13},{"i":248,"p":108.45},{"i":256,"p":108.75},{"i":264,"p":108.18},{"i":272,"p":108.03},{"i":280,"p":108.03},
      {"i":288,"p":108.13},{"i":296,"p":107.6},{"i":304,"p":107.98},{"i":312,"p":108.13},{"i":320,"p":108.18},{"i":328,"p":108.65},
      {"i":336,"p":108.7},{"i":344,"p":108.73},{"i":352,"p":108.88},{"i":360,"p":107.25},{"i":368,"p":106.48},{"i":376,"p":106.25},
      {"i":384,"p":106.03},{"i":392,"p":105.45},{"i":400,"p":106.08},{"i":408,"p":105.98},{"i":416,"p":106.13},{"i":424,"p":106.48},
      {"i":432,"p":106.48},{"i":440,"p":106.58},{"i":448,"p":106.4},{"i":456,"p":105.75},{"i":464,"p":105.9},{"i":472,"p":106.33},
      {"i":480,"p":106.25},{"i":488,"p":106.23},{"i":496,"p":106.13},{"i":504,"p":106.85}
    ],
    "ma_green": [
      {"i":0,"p":109.8},{"i":8,"p":109.42},{"i":16,"p":109.57},{"i":24,"p":109.6},{"i":32,"p":109.93},{"i":40,"p":110.27},
      {"i":48,"p":110.32},{"i":56,"p":109.8},{"i":64,"p":109.53},{"i":72,"p":109.4},{"i":80,"p":109.48},{"i":88,"p":109.53},
      {"i":96,"p":108.58},{"i":104,"p":108.05},{"i":112,"p":108.15},{"i":120,"p":108.32},{"i":128,"p":108.45},{"i":136,"p":108.45},
      {"i":144,"p":108.38},{"i":152,"p":108.49},{"i":160,"p":108.46},{"i":168,"p":108.29},{"i":176,"p":107.78},{"i":184,"p":107.4},
      {"i":192,"p":107.22},{"i":200,"p":107.7},{"i":208,"p":107.92},{"i":216,"p":108.23},{"i":224,"p":108.02},{"i":232,"p":107.82},
      {"i":240,"p":108.03},{"i":248,"p":108.45},{"i":256,"p":108.72},{"i":264,"p":108.32},{"i":272,"p":108.12},{"i":280,"p":108.0},
      {"i":288,"p":108.12},{"i":296,"p":107.75},{"i":304,"p":107.87},{"i":312,"p":108.12},{"i":320,"p":108.15},{"i":328,"p":108.48},
      {"i":336,"p":108.7},{"i":344,"p":108.7},{"i":352,"p":108.83},{"i":360,"p":107.7},{"i":368,"p":106.62},{"i":376,"p":106.35},
      {"i":384,"p":106.07},{"i":392,"p":105.62},{"i":400,"p":105.83},{"i":408,"p":106.13},{"i":416,"p":106.12},{"i":424,"p":106.4},
      {"i":432,"p":106.5},{"i":440,"p":106.55},{"i":448,"p":106.47},{"i":456,"p":105.93},{"i":464,"p":105.9},{"i":472,"p":106.2},
      {"i":480,"p":106.35},{"i":488,"p":106.22},{"i":496,"p":106.15},{"i":504,"p":106.65},{"i":507,"p":106.76}
    ],
    "zigzag": [
      {"i":0,"p":109.57},{"i":4,"p":109.03},{"i":40,"p":110.68},{"i":74,"p":109.17},{"i":82,"p":109.9},{"i":104,"p":107.82},
      {"i":117,"p":108.4},{"i":120,"p":108.1},{"i":126,"p":108.76},{"i":140,"p":108.2},{"i":152,"p":108.72},{"i":157,"p":108.25},
      {"i":162,"p":108.52},{"i":188,"p":106.82},{"i":212,"p":108.55},{"i":224,"p":107.54},{"i":252,"p":109.0},{"i":262,"p":107.86},
      {"i":266,"p":108.55},{"i":293,"p":107.22},{"i":348,"p":109.31},{"i":392,"p":105.06},{"i":400,"p":106.98},{"i":404,"p":105.34},
      {"i":446,"p":106.76},{"i":450,"p":104.45},{"i":472,"p":106.7},{"i":490,"p":105.74},{"i":502,"p":107.25},{"i":506,"p":106.98}
    ],
    "channel": [
      {"i0":0,"p0":111.839,"i1":571,"p1":107.7},
      {"i0":0,"p0":107.98,"i1":571,"p1":103.692}
    ],
    "levels": [{"p":108.013},{"p":106.979}],
    "header": [{"i":2,"p":112.227,"t":"▼ USDJPY,H4  106.959 106.983 106.944 106.979"}],
    "pair": [{"i":459.5,"p":111.453,"t":"USD/JPY"}],
    "tags": [{"i":582.25,"p":108.013,"t":"108.013"},{"i":582.25,"p":106.979,"t":"106.979"}],
    "tip": [{"i":562.75,"p":108.571,"t":"Вертикальный масштаб"}],
    "arrow": [{"i":553.5,"p":106.295}],
    "shift": [{"i":507.9,"p":112.315}]
  },
  "layer": [
    {
      "data": {"name": "cloud"},
      "mark": {"type": "bar", "width": 16.6, "xOffset": 8, "clip": true},
      "encoding": {
        "x": {
          "field": "i", "type": "quantitative",
          "scale": {"domain": [0, 571], "nice": false, "zero": false},
          "axis": {
            "title": null,
            "values": [0,16,32,48,64,80,96,112,128,144,160,176,192,208,224,240,256,272,288,304,320,336,352,368,384,400,416,432,448,464,480,496,512,528,544,560],
            "labelExpr": "(datum.value % 32 === 0 && datum.value <= 480) ? ['13 May 2019','20 May 08:00','27 May 16:00','4 Jun 00:00','11 Jun 08:00','18 Jun 16:00','26 Jun 00:00','3 Jul 08:00','10 Jul 16:00','18 Jul 00:00','25 Jul 08:00','1 Aug 16:00','9 Aug 00:00','16 Aug 08:00','23 Aug 16:00','2 Sep 00:00'][datum.value / 32] : ''",
            "labelAlign": "left",
            "labelBaseline": "top",
            "labelPadding": 4,
            "labelOffset": -3,
            "labelOverlap": false,
            "labelFlush": false,
            "labelBound": false,
            "labelFont": "DejaVu Sans Condensed, Liberation Sans Narrow, DejaVu Sans",
            "labelFontSize": 18,
            "labelColor": "#000000",
            "tickSize": 6,
            "tickWidth": 1.5,
            "tickColor": "#000000",
            "tickOpacity": {"condition": {"test": "datum.value % 32 === 0 && datum.value <= 480", "value": 1}, "value": 0},
            "domainColor": "#000000",
            "domainWidth": 2,
            "grid": true,
            "gridColor": "#C8C8C8",
            "gridDash": [7, 5],
            "gridWidth": 1.5
          }
        },
        "y": {
          "field": "a", "type": "quantitative",
          "scale": {"domain": [102.175, 112.355], "nice": false, "zero": false},
          "axis": {
            "title": null,
            "orient": "right",
            "values": [112.235,111.71,111.185,110.645,110.12,109.595,109.07,108.545,108.02,107.48,106.955,106.43,105.905,105.38,104.855,104.315,103.79,103.265,102.74,102.215],
            "labelExpr": "indexof([108.545, 108.02, 106.955], datum.value) >= 0 ? '' : format(datum.value, '.3f')",
            "labelAlign": "left",
            "labelBaseline": "middle",
            "labelPadding": 6,
            "labelOverlap": false,
            "labelFlush": false,
            "labelFont": "DejaVu Sans",
            "labelFontSize": 16,
            "labelColor": "#000000",
            "tickSize": 5,
            "tickWidth": 1.5,
            "tickColor": "#000000",
            "domainColor": "#000000",
            "domainWidth": 2,
            "grid": true,
            "gridColor": "#C8C8C8",
            "gridDash": [7, 5],
            "gridWidth": 1.5
          }
        },
        "y2": {"field": "b"},
        "color": {"condition": {"test": "datum.a >= datum.b", "value": "#9B51E0"}, "value": "#79AAEC"}
      }
    },
    {
      "data": {"name": "cloud"},
      "mark": {"type": "line", "interpolate": "step-after", "strokeWidth": 2.5, "color": "#79AAEC", "clip": true},
      "encoding": {
        "x": {"field": "i", "type": "quantitative", "scale": {"domain": [0, 571], "nice": false, "zero": false}, "title": null},
        "y": {"field": "b", "type": "quantitative", "scale": {"domain": [102.175, 112.355], "nice": false, "zero": false}, "title": null}
      }
    },
    {
      "data": {"name": "cloud"},
      "mark": {"type": "line", "interpolate": "step-after", "strokeWidth": 2.5, "color": "#9B51E0", "clip": true},
      "encoding": {
        "x": {"field": "i", "type": "quantitative", "scale": {"domain": [0, 571], "nice": false, "zero": false}, "title": null},
        "y": {"field": "a", "type": "quantitative", "scale": {"domain": [102.175, 112.355], "nice": false, "zero": false}, "title": null}
      }
    },
    {
      "data": {"name": "candles"},
      "mark": {"type": "rule", "strokeWidth": 2, "clip": true},
      "encoding": {
        "x": {"field": "i", "type": "quantitative", "scale": {"domain": [0, 571], "nice": false, "zero": false}, "title": null},
        "y": {"field": "l", "type": "quantitative", "scale": {"domain": [102.175, 112.355], "nice": false, "zero": false}, "title": null},
        "y2": {"field": "h"},
        "color": {"condition": {"test": "datum.c >= datum.o", "value": "#000000"}, "value": "#FF2200"}
      }
    },
    {
      "data": {"name": "candles"},
      "mark": {"type": "bar", "width": 6, "clip": true},
      "encoding": {
        "x": {"field": "i", "type": "quantitative", "scale": {"domain": [0, 571], "nice": false, "zero": false}, "title": null},
        "y": {"field": "o", "type": "quantitative", "scale": {"domain": [102.175, 112.355], "nice": false, "zero": false}, "title": null},
        "y2": {"field": "c"},
        "color": {"condition": {"test": "datum.c >= datum.o", "value": "#000000"}, "value": "#FF2200"}
      }
    },
    {
      "data": {"name": "chikou"},
      "mark": {"type": "line", "strokeWidth": 3.5, "color": "#0B7A1B", "clip": true},
      "encoding": {
        "x": {"field": "i", "type": "quantitative", "scale": {"domain": [0, 571], "nice": false, "zero": false}, "title": null},
        "y": {"field": "p", "type": "quantitative", "scale": {"domain": [102.175, 112.355], "nice": false, "zero": false}, "title": null}
      }
    },
    {
      "data": {"name": "ma_blue"},
      "mark": {"type": "line", "interpolate": "monotone", "strokeWidth": 1.5, "color": "#0A4CFF", "clip": true},
      "encoding": {
        "x": {"field": "i", "type": "quantitative", "scale": {"domain": [0, 571], "nice": false, "zero": false}, "title": null},
        "y": {"field": "p", "type": "quantitative", "scale": {"domain": [102.175, 112.355], "nice": false, "zero": false}, "title": null}
      }
    },
    {
      "data": {"name": "ma_red"},
      "mark": {"type": "line", "interpolate": "monotone", "strokeWidth": 1.5, "color": "#FF2A00", "clip": true},
      "encoding": {
        "x": {"field": "i", "type": "quantitative", "scale": {"domain": [0, 571], "nice": false, "zero": false}, "title": null},
        "y": {"field": "p", "type": "quantitative", "scale": {"domain": [102.175, 112.355], "nice": false, "zero": false}, "title": null}
      }
    },
    {
      "data": {"name": "kijun"},
      "mark": {"type": "line", "interpolate": "step-after", "strokeWidth": 3.5, "color": "#0B1F9B", "clip": true},
      "encoding": {
        "x": {"field": "i", "type": "quantitative", "scale": {"domain": [0, 571], "nice": false, "zero": false}, "title": null},
        "y": {"field": "p", "type": "quantitative", "scale": {"domain": [102.175, 112.355], "nice": false, "zero": false}, "title": null}
      }
    },
    {
      "data": {"name": "ma_navy"},
      "mark": {"type": "line", "interpolate": "monotone", "strokeWidth": 4.5, "color": "#0B1F9B", "clip": true},
      "encoding": {
        "x": {"field": "i", "type": "quantitative", "scale": {"domain": [0, 571], "nice": false, "zero": false}, "title": null},
        "y": {"field": "p", "type": "quantitative", "scale": {"domain": [102.175, 112.355], "nice": false, "zero": false}, "title": null}
      }
    },
    {
      "data": {"name": "ma_brown"},
      "mark": {"type": "line", "interpolate": "monotone", "strokeWidth": 4.5, "color": "#C4463C", "clip": true},
      "encoding": {
        "x": {"field": "i", "type": "quantitative", "scale": {"domain": [0, 571], "nice": false, "zero": false}, "title": null},
        "y": {"field": "p", "type": "quantitative", "scale": {"domain": [102.175, 112.355], "nice": false, "zero": false}, "title": null}
      }
    },
    {
      "data": {"name": "ma_green"},
      "mark": {"type": "line", "interpolate": "monotone", "strokeWidth": 1.8, "color": "#2FE62F", "clip": true},
      "encoding": {
        "x": {"field": "i", "type": "quantitative", "scale": {"domain": [0, 571], "nice": false, "zero": false}, "title": null},
        "y": {"field": "p", "type": "quantitative", "scale": {"domain": [102.175, 112.355], "nice": false, "zero": false}, "title": null}
      }
    },
    {
      "data": {"name": "zigzag"},
      "mark": {"type": "line", "strokeWidth": 4, "color": "#FF2200", "clip": true},
      "encoding": {
        "x": {"field": "i", "type": "quantitative", "scale": {"domain": [0, 571], "nice": false, "zero": false}, "title": null},
        "y": {"field": "p", "type": "quantitative", "scale": {"domain": [102.175, 112.355], "nice": false, "zero": false}, "title": null}
      }
    },
    {
      "data": {"name": "channel"},
      "mark": {"type": "rule", "strokeWidth": 4, "color": "#000000"},
      "encoding": {
        "x": {"field": "i0", "type": "quantitative", "scale": {"domain": [0, 571], "nice": false, "zero": false}, "title": null},
        "x2": {"field": "i1"},
        "y": {"field": "p0", "type": "quantitative", "scale": {"domain": [102.175, 112.355], "nice": false, "zero": false}, "title": null},
        "y2": {"field": "p1"}
      }
    },
    {
      "data": {"name": "levels"},
      "mark": {"type": "rule"},
      "encoding": {
        "y": {"field": "p", "type": "quantitative", "scale": {"domain": [102.175, 112.355], "nice": false, "zero": false}, "title": null},
        "color": {"condition": {"test": "datum.p > 107.5", "value": "#951A09"}, "value": "#C4C4C4"},
        "strokeWidth": {"condition": {"test": "datum.p > 107.5", "value": 3}, "value": 2}
      }
    },
    {
      "data": {"values": [{"edge": "top"}]},
      "mark": {"type": "rule", "color": "#000000", "strokeWidth": 2},
      "encoding": {
        "y": {"datum": 112.355, "type": "quantitative", "scale": {"domain": [102.175, 112.355], "nice": false, "zero": false}, "title": null}
      }
    },
    {
      "data": {"name": "header"},
      "mark": {"type": "text", "align": "left", "baseline": "middle", "font": "DejaVu Sans", "fontSize": 17, "color": "#000000"},
      "encoding": {
        "x": {"field": "i", "type": "quantitative", "scale": {"domain": [0, 571], "nice": false, "zero": false}, "title": null},
        "y": {"field": "p", "type": "quantitative", "scale": {"domain": [102.175, 112.355], "nice": false, "zero": false}, "title": null},
        "text": {"field": "t"}
      }
    },
    {
      "data": {"name": "pair"},
      "mark": {"type": "text", "align": "left", "baseline": "alphabetic", "font": "Liberation Sans, Arial, sans-serif", "fontWeight": "bold", "fontSize": 100, "color": "#5E37E6"},
      "encoding": {
        "x": {"field": "i", "type": "quantitative", "scale": {"domain": [0, 571], "nice": false, "zero": false}, "title": null},
        "y": {"field": "p", "type": "quantitative", "scale": {"domain": [102.175, 112.355], "nice": false, "zero": false}, "title": null},
        "text": {"field": "t"}
      }
    },
    {
      "data": {"name": "shift"},
      "mark": {"type": "point", "shape": "M-1,-0.55L1,-0.55L0,0.55Z", "size": 289, "filled": true, "fill": "#C8C8C8", "strokeWidth": 0, "opacity": 1},
      "encoding": {
        "x": {"field": "i", "type": "quantitative", "scale": {"domain": [0, 571], "nice": false, "zero": false}, "title": null},
        "y": {"field": "p", "type": "quantitative", "scale": {"domain": [102.175, 112.355], "nice": false, "zero": false}, "title": null}
      }
    },
    {
      "data": {"name": "arrow"},
      "mark": {"type": "point", "shape": "M0,-1L0.77,-0.1L0.35,-0.1L0.35,1L-0.35,1L-0.35,-0.1L-0.77,-0.1Z", "size": 2704, "filled": true, "fill": "#FFFFFF", "stroke": "#000000", "strokeWidth": 2.5, "opacity": 1},
      "encoding": {
        "x": {"field": "i", "type": "quantitative", "scale": {"domain": [0, 571], "nice": false, "zero": false}, "title": null},
        "y": {"field": "p", "type": "quantitative", "scale": {"domain": [102.175, 112.355], "nice": false, "zero": false}, "title": null}
      }
    },
    {
      "data": {"name": "tags"},
      "mark": {"type": "point", "shape": "M-3.545,-1H3.545V1H-3.545Z", "size": 484, "filled": true, "strokeWidth": 0, "opacity": 1},
      "encoding": {
        "x": {"field": "i", "type": "quantitative", "scale": {"domain": [0, 571], "nice": false, "zero": false}, "title": null},
        "y": {"field": "p", "type": "quantitative", "scale": {"domain": [102.175, 112.355], "nice": false, "zero": false}, "title": null},
        "color": {"condition": {"test": "datum.p > 107.5", "value": "#951A09"}, "value": "#000000"}
      }
    },
    {
      "data": {"name": "tags"},
      "mark": {"type": "text", "align": "center", "baseline": "middle", "font": "DejaVu Sans", "fontSize": 16, "color": "#FFFFFF"},
      "encoding": {
        "x": {"field": "i", "type": "quantitative", "scale": {"domain": [0, 571], "nice": false, "zero": false}, "title": null},
        "y": {"field": "p", "type": "quantitative", "scale": {"domain": [102.175, 112.355], "nice": false, "zero": false}, "title": null},
        "text": {"field": "t"}
      }
    },
    {
      "data": {"name": "tip"},
      "mark": {"type": "point", "shape": "M-6.889,-1H6.889V1H-6.889Z", "size": 1296, "filled": true, "fill": "#FFFFE1", "stroke": "#000000", "strokeWidth": 1.5, "opacity": 1},
      "encoding": {
        "x": {"field": "i", "type": "quantitative", "scale": {"domain": [0, 571], "nice": false, "zero": false}, "title": null},
        "y": {"field": "p", "type": "quantitative", "scale": {"domain": [102.175, 112.355], "nice": false, "zero": false}, "title": null}
      }
    },
    {
      "data": {"name": "tip"},
      "mark": {"type": "text", "align": "center", "baseline": "middle", "font": "DejaVu Sans", "fontSize": 18, "color": "#000000"},
      "encoding": {
        "x": {"field": "i", "type": "quantitative", "scale": {"domain": [0, 571], "nice": false, "zero": false}, "title": null},
        "y": {"field": "p", "type": "quantitative", "scale": {"domain": [102.175, 112.355], "nice": false, "zero": false}, "title": null},
        "text": {"field": "t"}
      }
    }
  ]
}
